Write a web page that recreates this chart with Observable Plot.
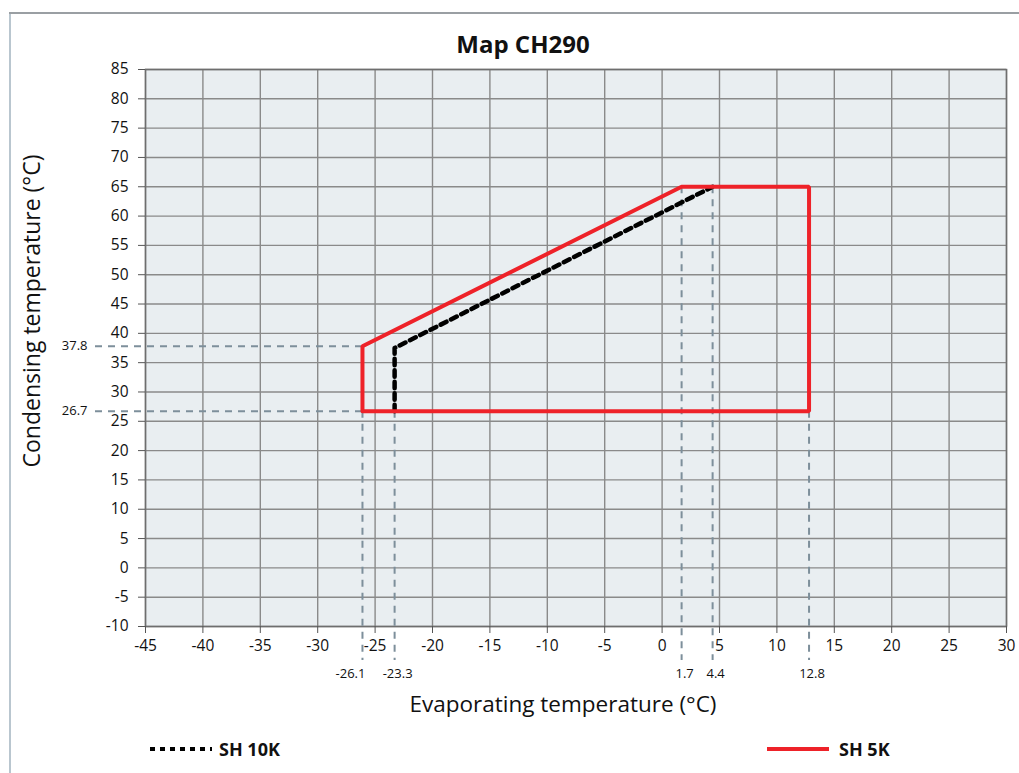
<!DOCTYPE html>
<html>
<head>
<meta charset="utf-8">
<script src="https://cdn.jsdelivr.net/npm/d3@7"></script>
<script src="https://cdn.jsdelivr.net/npm/@observablehq/plot@0.6"></script>
<style>
  html, body { margin: 0; padding: 0; background: #fff; }
  #wrap { position: relative; width: 1019px; height: 773px; overflow: hidden; font-family: "Open Sans", sans-serif; color: #111; }
  #wrap svg { position: absolute; left: 0; top: 0; }
  .abs { position: absolute; white-space: nowrap; }
  #title { left: 0; width: 1046px; top: 27px; text-align: center; font-weight: 700; font-size: 24px; }
  #ylab { left: 31px; top: 311px; transform: translate(-50%, -50%) rotate(-90deg); font-size: 23px; }
  #xlab { left: 563px; top: 703px; transform: translate(-50%, -50%); font-size: 22.5px; }
  #borderL { left: 9px; top: 13px; width: 2px; height: 760px; background: #b9c6cf; }
  #borderT { left: 9px; top: 12px; width: 1010px; height: 2px; background: #9a9fa3; }
  .leg { top: 737px; font-weight: 700; font-size: 18px; display: flex; align-items: center; }
  .sw { display: inline-block; width: 62px; height: 4px; margin-right: 7px; }
</style>
</head>
<body>
<div id="wrap">
  <div id="chart"></div>
  <div class="abs" id="borderL"></div>
  <div class="abs" id="borderT"></div>
  <div class="abs" id="title">Map CH290</div>
  <div class="abs" id="ylab">Condensing temperature (°C)</div>
  <div class="abs" id="xlab">Evaporating temperature (°C)</div>
  <div class="abs leg" style="left:150px"><span class="sw" style="background: repeating-linear-gradient(90deg, #000 0 5px, transparent 5px 10px);"></span>SH 10K</div>
  <div class="abs leg" style="left:767px"><span class="sw" style="background:#ee2229; margin-right:10px"></span>SH 5K</div>
</div>
<script>
const xTicks = [-45, -40, -35, -30, -25, -20, -15, -10, -5, 0, 5, 10, 15, 20, 25, 30];
const yTicks = [-10, -5, 0, 5, 10, 15, 20, 25, 30, 35, 40, 45, 50, 55, 60, 65, 70, 75, 80, 85];

// SH 5K envelope (red)
const sh5Evap = [-26.1, -26.1, 1.7, 12.8, 12.8, -26.1];
const sh5Cond = [26.7, 37.8, 65, 65, 26.7, 26.7];
// SH 10K boundary (black dotted)
const sh10Evap = [-23.3, -23.3, 4.4];
const sh10Cond = [26.7, 37.5, 65];

// reference lines
const refEvap = [-26.1, -23.3, 1.7, 4.4, 12.8];
const refEvapTop = [26.7, 26.7, 65, 65, 26.7];
const refCond = [37.8, 26.7];
const refCondEnd = [-26.1, -26.1];

const sh5 = sh5Evap.map((x, i) => ({x, y: sh5Cond[i]}));
const sh10 = sh10Evap.map((x, i) => ({x, y: sh10Cond[i]}));
const vRefs = refEvap.map((v, i) => ({v, top: refEvapTop[i], i}));
const hRefs = refCond.map((v, i) => ({v, end: refCondEnd[i]}));

const refStyle = {stroke: "#7d8f9b", strokeWidth: 2, strokeDasharray: "7,6"};
const fmt = d => String(d);

const chart = Plot.plot({
  width: 1019,
  height: 773,
  marginTop: 69,
  marginLeft: 145,
  marginRight: 13,
  marginBottom: 147,
  x: {domain: [-45, 30], label: null},
  y: {domain: [-10, 85], label: null},
  style: {fontFamily: "Open Sans, sans-serif", fontSize: "15px", color: "#111", background: "transparent"},
  marks: [
    Plot.frame({fill: "#e9eef1"}),
    Plot.gridX(xTicks, {stroke: "#8a8a8a", strokeOpacity: 1, strokeWidth: 1.4}),
    Plot.gridY(yTicks, {stroke: "#8a8a8a", strokeOpacity: 1, strokeWidth: 1.4}),
    Plot.frame({stroke: "#6e6e6e", strokeWidth: 1.5}),
    Plot.axisX(xTicks, {tickSize: 7, tickPadding: 6, fontSize: 15.5, stroke: "#555", tickFormat: fmt}),
    Plot.axisY(yTicks, {tickSize: 7, tickPadding: 10, fontSize: 15.5, stroke: "#555", tickFormat: fmt}),
    Plot.ruleY(hRefs, {y: "v", x1: -45, x2: "end", insetLeft: -50, ...refStyle}),
    Plot.ruleX(vRefs, {x: "v", y1: "top", y2: -10, insetBottom: -34, ...refStyle}),
    Plot.text(hRefs, {y: "v", x: -45, text: d => d.v.toFixed(1), dx: -58, textAnchor: "end", fontSize: 13}),
    Plot.text(vRefs.filter(d => d.i === 0), {x: "v", y: -10, text: d => d.v.toFixed(1), dy: 47, dx: 3, textAnchor: "end", fontSize: 13}),
    Plot.text(vRefs.filter(d => d.i > 0), {x: "v", y: -10, text: d => d.v.toFixed(1), dy: 47, dx: 3, fontSize: 13}),
    Plot.line(sh10, {x: "x", y: "y", stroke: "#000", strokeWidth: 4.5, strokeDasharray: "6.5,5"}),
    Plot.line(sh5, {x: "x", y: "y", stroke: "#ee2229", strokeWidth: 4, strokeLinejoin: "miter"})
  ]
});
document.getElementById("chart").appendChild(chart);
</script>
</body>
</html>
